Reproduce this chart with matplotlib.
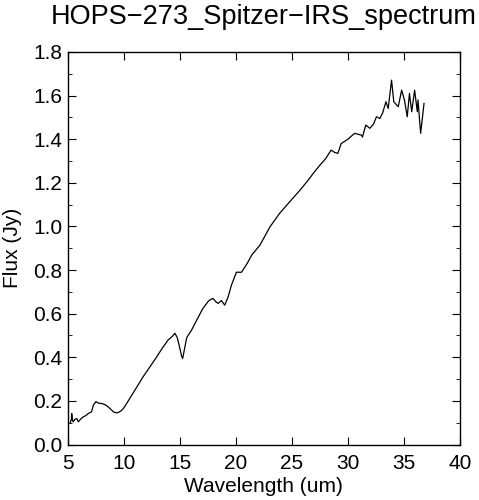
import matplotlib.pyplot as plt
from matplotlib.ticker import MultipleLocator

plt.rcParams['font.family'] = ['Liberation Sans', 'DejaVu Sans']

# spectrum
wavelength = [5.2, 5.3, 5.33, 5.4, 5.47, 5.6, 5.78, 5.92, 6.1, 6.37, 6.6, 6.8, 7.1, 7.26,
              7.4, 7.5, 7.7, 8.0, 8.3, 8.6, 8.85, 9.05, 9.3, 9.5, 9.75, 9.94, 10.2, 10.5,
              10.8, 11.25, 11.7, 12.3, 12.9, 13.4, 13.95, 14.3, 14.55, 14.76, 14.95, 15.15,
              15.24, 15.45, 15.6, 16.04, 16.34, 16.9, 17.05, 17.5, 17.65, 17.95, 18.2, 18.4,
              18.7, 19.0, 19.3, 19.6, 20.04, 20.5, 21.0, 21.4, 22.14, 23.04, 23.9, 24.8,
              25.7, 26.45, 26.9, 27.5, 28.0, 28.5, 28.8, 29.1, 29.4, 30.0, 30.6, 31.2,
              31.3, 31.6, 31.96, 32.3, 32.55, 32.85, 33.1, 33.4, 33.6, 33.9, 34.1, 34.3,
              34.5, 34.8, 35.05, 35.3, 35.5, 35.7, 35.96, 36.2, 36.26, 36.5, 36.8]
flux = [0.10, 0.115, 0.142, 0.11, 0.104, 0.115, 0.119, 0.104, 0.115, 0.127, 0.133, 0.142,
        0.15, 0.18, 0.19, 0.197, 0.19, 0.188, 0.183, 0.172, 0.16, 0.15, 0.145, 0.147,
        0.155, 0.165, 0.185, 0.21, 0.235, 0.272, 0.31, 0.355, 0.40, 0.44, 0.48, 0.495,
        0.51, 0.49, 0.45, 0.405, 0.394, 0.45, 0.49, 0.525, 0.555, 0.61, 0.624, 0.655,
        0.662, 0.67, 0.655, 0.647, 0.66, 0.639, 0.677, 0.731, 0.79, 0.79, 0.83, 0.868,
        0.914, 0.998, 1.06, 1.113, 1.165, 1.212, 1.243, 1.281, 1.31, 1.35, 1.34, 1.335,
        1.38, 1.40, 1.427, 1.419, 1.41, 1.465, 1.45, 1.47, 1.503, 1.495, 1.52, 1.572,
        1.541, 1.671, 1.572, 1.56, 1.549, 1.625, 1.58, 1.503, 1.61, 1.526, 1.625, 1.526,
        1.58, 1.427, 1.564]

fig = plt.figure(figsize=(4.79, 5), dpi=100)
ax = fig.add_axes([0.142, 0.111, 0.818, 0.785])
ax.plot(wavelength, flux, color='black', linewidth=0.9)

ax.set_xlim(5, 40)
ax.set_ylim(0, 1.8)
ax.xaxis.set_major_locator(MultipleLocator(5))
ax.yaxis.set_major_locator(MultipleLocator(0.2))
ax.yaxis.set_minor_locator(MultipleLocator(0.1))
ax.yaxis.set_major_formatter(plt.FormatStrFormatter('%.1f'))
ax.tick_params(which='both', direction='in', top=True, right=True, labelsize=15)
ax.tick_params(which='major', length=6)
ax.tick_params(which='minor', length=3)
ax.tick_params(axis='x', pad=7)
ax.tick_params(axis='y', pad=4)
for s in ax.spines.values():
    s.set_linewidth(1.0)

ax.set_xlabel('Wavelength (um)', fontsize=15, labelpad=3)
ax.set_ylabel('Flux (Jy)', fontsize=15, labelpad=8)
fig.text(0.551, 0.966, 'HOPS\u2212273_Spitzer\u2212IRS_spectrum', fontsize=19.5,
         ha='center', va='center')

fig.savefig('out.png', dpi=100)
